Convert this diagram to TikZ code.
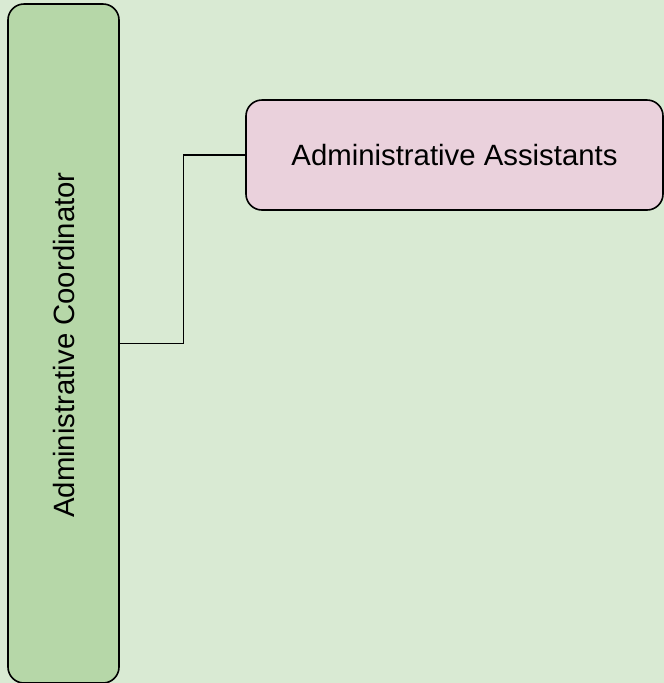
\documentclass[tikz,border=0pt]{standalone}
\usepackage{fontspec}
\setmainfont{Liberation Sans}
\definecolor{bgGreen}{HTML}{D9EAD3}
\definecolor{boxGreen}{HTML}{B6D7A8}
\definecolor{boxPink}{HTML}{EAD1DC}
\tikzset{every picture/.style={line width=1.2pt}}
\tikzset{roleBox/.style={draw, rounded corners=12pt, inner sep=0pt, font=\fontsize{22}{26}\selectfont}}

\begin{document}
\begin{tikzpicture}[x=0.75pt,y=0.75pt,yscale=-1,xscale=1]
%background, sets the frame of the diagram
\fill[bgGreen] (0,0) rectangle (664,683);
\useasboundingbox (0,0) rectangle (664,683);

%Coordinator
\node [roleBox, fill=boxGreen, minimum width=111*0.75pt, minimum height=679*0.75pt] (coord) at (63.5,343.5) {};
\node [rotate=90, font=\fontsize{22}{26}\selectfont] (coordText) at (64,345) {Administrative Coordinator};

%Assistants
\node [roleBox, fill=boxPink, minimum width=417*0.75pt, minimum height=110*0.75pt] (assist) at (454.5,155) {Administrative Assistants};

%Connector
\draw [line width=1pt] (coord.east) -- ++(64,0) |- (assist.west);

\end{tikzpicture}
\end{document}
